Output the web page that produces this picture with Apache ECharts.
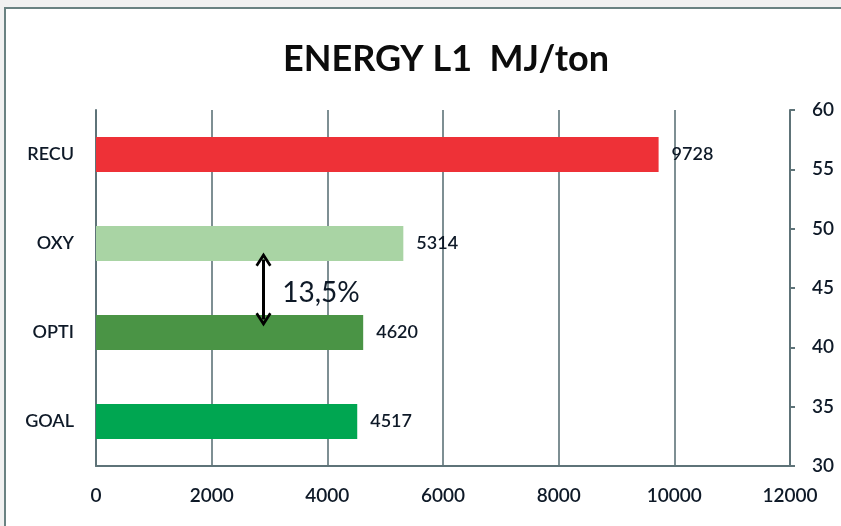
<!DOCTYPE html>
<html>
<head>
<meta charset="utf-8">
<title>ENERGY L1 MJ/ton</title>
<script src="https://cdn.jsdelivr.net/npm/echarts@6/dist/echarts.min.js"></script>
<style>
  html, body { margin: 0; padding: 0; background: #f1f1f1; overflow: hidden; }
  #frame {
    position: absolute; left: 4px; top: 7px; width: 900px; height: 600px;
    background: #ffffff; border-left: 2px solid #6a8282; border-top: 2px solid #6a8282;
  }
  #chart { position: absolute; left: 0; top: 0; width: 841px; height: 526px; }
</style>
</head>
<body>
<div id="frame"></div>
<div id="chart"></div>
<script>
// Energy use per line configuration, MJ per ton
const categories = ['RECU', 'OXY', 'OPTI', 'GOAL'];
const energyValues = [9728, 5314, 4620, 4517];
const barColors = ['#ee3137', '#a9d4a4', '#4a9445', '#00a651'];

// Bottom (energy) axis and right-hand secondary axis ranges
const energyAxis = { min: 0, max: 12000, step: 2000 };
const secondaryAxis = { min: 30, max: 60, step: 5 };

// Saving annotation between OXY and OPTI, placed on the energy / secondary axes
const gapText = '13,5%';
const gapArrow = { x: 2896, from: 47.4, to: 42.35 };
const gapLabelAt = [3220, 44.6];

const FONT = 'Lato';
const WEIGHT = 600;
const INK = '#0e1927';
const AXIS = '#5e7378';

const chart = echarts.init(document.getElementById('chart'));

chart.setOption({
  backgroundColor: 'transparent',
  animation: false,
  textStyle: { fontFamily: FONT },
  title: {
    text: 'ENERGY L1  MJ/ton',
    left: 441,
    top: 36,
    textAlign: 'center',
    textStyle: { fontFamily: FONT, fontWeight: 'bold', fontSize: 36, color: '#0c0c0c' }
  },
  grid: { left: 96, right: 51, top: 110, bottom: 60, containLabel: false, outerBoundsMode: 'none' },
  xAxis: {
    type: 'value',
    min: energyAxis.min,
    max: energyAxis.max,
    interval: energyAxis.step,
    axisLine: { show: true, lineStyle: { color: AXIS, width: 2 } },
    axisTick: { show: false },
    splitLine: { show: true, lineStyle: { color: AXIS, width: 1.6 } },
    axisLabel: { color: INK, fontSize: 19, fontWeight: WEIGHT, margin: 20, fontFamily: FONT, formatter: v => String(v) }
  },
  yAxis: [{
    type: 'category',
    data: categories,
    inverse: true,
    axisLine: { show: true, lineStyle: { color: AXIS, width: 2 } },
    axisTick: { show: false },
    splitLine: { show: false },
    axisLabel: { color: INK, fontSize: 18, fontWeight: WEIGHT, margin: 22, fontFamily: FONT }
  }, {
    type: 'value',
    position: 'right',
    min: secondaryAxis.min,
    max: secondaryAxis.max,
    interval: secondaryAxis.step,
    axisLine: { show: true, lineStyle: { color: AXIS, width: 2 } },
    axisTick: { show: true, inside: false, length: 5, lineStyle: { color: AXIS, width: 2 } },
    splitLine: { show: false },
    axisLabel: { color: INK, fontSize: 19, fontWeight: WEIGHT, margin: 22, fontFamily: FONT }
  }],
  series: [{
    type: 'bar',
    name: 'Energy',
    yAxisIndex: 0,
    barWidth: 35,
    data: energyValues.map((v, i) => ({ value: v, itemStyle: { color: barColors[i] } })),
    label: {
      show: true,
      position: 'right',
      distance: 13,
      color: INK,
      fontSize: 18,
      fontWeight: WEIGHT,
      fontFamily: FONT
    }
  }, {
    type: 'scatter',
    name: 'gap',
    yAxisIndex: 1,
    symbolSize: 0,
    silent: true,
    itemStyle: { opacity: 1 },
    data: [gapLabelAt],
    label: {
      show: true,
      position: 'right',
      distance: 0,
      formatter: gapText,
      color: INK,
      opacity: 1,
      fontSize: 28,
      fontFamily: FONT
    },
    markLine: {
      silent: true,
      symbol: [
        'path://M0,10 L5,0 L10,10 L8.6,11.2 L5,4.2 L1.4,11.2 Z',
        'path://M0,10 L5,0 L10,10 L8.6,11.2 L5,4.2 L1.4,11.2 Z'
      ],
      symbolSize: [16, 14],
      label: { show: false },
      lineStyle: { color: '#000000', width: 3, type: 'solid', opacity: 1 },
      data: [[
        { coord: [gapArrow.x, gapArrow.from] },
        { coord: [gapArrow.x, gapArrow.to] }
      ]]
    }
  }]
});
</script>
</body>
</html>
